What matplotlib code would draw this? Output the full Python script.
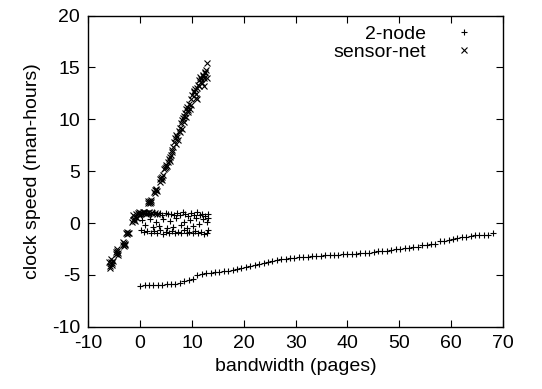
import matplotlib
matplotlib.use("Agg")
import matplotlib.pyplot as plt

plt.rcParams['font.family'] = ['Liberation Sans', 'DejaVu Sans']
plt.rcParams['font.size'] = 14
plt.rcParams['axes.unicode_minus'] = False

# 2-node: long slow curve
node_line_x = [0.0, 0.85, 1.7, 2.55, 3.4, 4.25, 5.1, 5.95, 6.8, 7.65, 8.5, 9.35, 10.2, 11.05,
               11.9, 12.75, 13.6, 14.45, 15.3, 16.15, 17.0, 17.85, 18.7, 19.55, 20.4, 21.25,
               22.1, 22.95, 23.8, 24.65, 25.5, 26.35, 27.2, 28.05, 28.9, 29.75, 30.6, 31.45,
               32.3, 33.15, 34.0, 34.85, 35.7, 36.55, 37.4, 38.25, 39.1, 39.95, 40.8, 41.65,
               42.5, 43.35, 44.2, 45.05, 45.9, 46.75, 47.6, 48.45, 49.3, 50.15, 51.0, 51.85,
               52.7, 53.55, 54.4, 55.25, 56.1, 56.95, 57.8, 58.65, 59.5, 60.35, 61.2, 62.05,
               62.9, 63.75, 64.6, 65.45, 66.3, 67.15, 68.0]
node_line_y = [-6.05, -6.0, -6.0, -5.98, -5.95, -5.93, -5.9, -5.88, -5.85, -5.8, -5.6, -5.45,
               -5.35, -5.05, -4.95, -4.85, -4.8, -4.75, -4.7, -4.65, -4.6, -4.55, -4.45, -4.3,
               -4.2, -4.1, -4.0, -3.95, -3.85, -3.75, -3.65, -3.6, -3.5, -3.45, -3.4, -3.35,
               -3.3, -3.27, -3.24, -3.2, -3.18, -3.15, -3.12, -3.1, -3.08, -3.05, -3.02, -3.0,
               -2.97, -2.95, -2.92, -2.88, -2.85, -2.75, -2.72, -2.7, -2.65, -2.6, -2.55, -2.5,
               -2.45, -2.4, -2.35, -2.3, -2.1, -2.08, -2.05, -2.03, -1.75, -1.72, -1.68, -1.55,
               -1.4, -1.35, -1.3, -1.25, -1.2, -1.18, -1.15, -1.12, -1.0]

# 2-node: band around zero
node_band_x = [0.1, 0.6, 1.1, 1.6, 2.1, 2.7, 3.2, 3.8, 4.3, 4.9, 5.4, 6.0, 6.5, 7.1, 7.6, 8.2,
               8.7, 9.3, 9.8, 10.4, 10.9, 11.5, 12.0, 12.6, 13.0,
               0.3, 1.0, 1.8, 2.5, 3.0, 3.7, 4.5, 5.2, 5.8, 6.4, 7.0, 7.8, 8.5, 9.0, 9.6, 10.2,
               10.8, 11.4, 12.1, 12.8, 13.0,
               0.2, 0.8, 1.4, 2.0, 2.6, 3.3, 3.9, 4.4, 5.0, 5.6, 6.2, 6.8, 7.3, 7.9, 8.4, 9.0,
               9.5, 10.1, 10.6, 11.2, 11.8, 12.3, 12.9, 13.0]
node_band_y = [0.9, 1.0, 0.95, 1.0, 0.9, 1.05, 0.85, 0.95, 0.8, 0.95, 0.85, 0.9, 0.75, 0.95,
               0.8, 1.1, 0.85, 0.7, 0.95, 0.75, 1.05, 0.8, 0.9, 0.7, 0.85,
               0.3, -0.2, 0.4, -0.4, 0.1, -0.3, 0.35, -0.5, 0.2, -0.35, 0.45, -0.2, 0.1, -0.45,
               0.3, -0.3, 0.5, -0.1, 0.35, 0.1, 0.5,
               -0.7, -0.9, -0.75, -1.0, -0.8, -0.95, -0.7, -1.05, -0.85, -0.95, -0.75, -1.0,
               -0.85, -0.95, -0.7, -1.0, -0.85, -0.95, -0.75, -1.0, -0.9, -1.05, -0.95, -0.7]

# sensor-net
sensor_x = [-5.9, -5.7, -5.5, -5.3, -5.6, -5.8, -5.4, -6.0,
            -4.7, -4.4, -4.2, -4.5, -4.6, -4.3,
            -3.4, -3.1, -3.2, -2.9, -3.3, -3.0,
            -2.8, -2.5, -2.2, -2.6, -2.4,
            -1.5, -1.2, -1.0, -1.3, -0.8, -0.5, -0.2, 0.2, 0.5, 0.9, 1.3, 1.7, 2.2, 2.8, 3.3,
            -1.0, -0.6, -1.4, -0.3, 0.0, 0.7, 1.1,
            1.5, 1.8, 2.0, 1.7, 2.1, 1.6, 1.9,
            2.7, 3.0, 3.2, 2.9, 3.1, 2.8,
            3.8, 4.0, 4.2, 4.4, 4.6, 4.9, 5.0, 5.3, 5.5, 5.7, 5.9, 6.1, 6.3, 6.6, 6.8, 7.0,
            7.2, 7.4, 7.6, 7.8, 8.0, 8.2, 8.4, 8.6, 8.9, 9.1, 9.3, 9.5, 9.8, 10.0, 10.3, 10.5,
            10.7, 10.9, 11.1, 11.3, 11.5, 11.7, 11.9, 12.1, 12.3, 12.5, 12.7, 12.9, 12.4,
            11.0, 9.6, 3.9, 4.3, 4.8, 5.2, 5.8, 6.2, 6.9, 7.3, 7.7, 8.1, 8.5, 8.8, 9.2, 9.9,
            10.4, 10.8, 11.4, 11.8, 12.2, 12.6, 12.8]
sensor_y = [-4.1, -3.8, -4.0, -3.7, -3.5, -4.3, -3.9, -3.8,
            -3.0, -2.7, -2.9, -2.5, -2.8, -3.1,
            -2.1, -1.9, -2.2, -2.0, -1.8, -2.1,
            -1.0, -1.05, -0.95, -0.9, -1.0,
            0.1, 0.4, 0.6, 0.8, 0.9, 1.0, 1.1, 1.0, 1.05, 0.95, 1.0, 1.05, 0.95, 1.0, 0.9,
            0.2, 0.5, 0.3, 0.8, 0.9, 1.1, 0.9,
            2.1, 1.9, 2.2, 2.0, 2.05, 1.9, 2.15,
            3.0, 3.3, 3.1, 2.9, 3.2, 3.15,
            4.0, 4.3, 4.1, 4.6, 5.2, 5.6, 5.4, 5.9, 6.2, 6.0, 6.6, 7.0, 7.3, 7.8, 8.2, 8.5,
            8.3, 8.9, 9.2, 9.6, 9.9, 10.1, 10.3, 10.6, 11.0, 11.2, 10.9, 11.5, 12.0, 12.3,
            12.7, 12.9, 12.4, 13.0, 13.3, 13.8, 14.1, 13.9, 13.5, 14.3, 14.0, 14.5, 14.8,
            15.4, 13.2, 12.0, 11.0, 4.2, 4.4, 5.3, 5.5, 6.4, 6.8, 7.6, 8.0, 8.8, 9.1, 9.7, 10.2,
            10.7, 11.4, 12.6, 12.1, 13.2, 13.6, 14.2, 14.6, 14.0]

fig = plt.figure(figsize=(5.42, 3.89), dpi=100)
ax = fig.add_axes([0.163, 0.16, 0.765, 0.80])

ax.plot(node_line_x + node_band_x, node_line_y + node_band_y, linestyle='none',
        marker='+', markersize=5, markeredgewidth=0.8, color='black', label='2-node')
ax.plot(sensor_x, sensor_y, linestyle='none', marker='x', markersize=4,
        markeredgewidth=0.8, color='black', label='sensor-net')

ax.set_xlim(-10, 70)
ax.set_ylim(-10, 20)
ax.set_xticks(range(-10, 71, 10))
ax.set_yticks(range(-10, 21, 5))
ax.tick_params(direction='in', top=True, right=True, length=5, width=0.8, pad=6)
for s in ax.spines.values():
    s.set_linewidth(1.0)

ax.set_xlabel("bandwidth (pages)", labelpad=4)
ax.set_ylabel("clock speed (man-hours)", labelpad=8)

ax.legend(loc='upper right', frameon=False, markerfirst=False, handlelength=1.5,
          handletextpad=1.2, borderaxespad=0.2, labelspacing=0.0, borderpad=0.3,
          bbox_to_anchor=(0.965, 1.0))

fig.savefig("out.png", dpi=100)
